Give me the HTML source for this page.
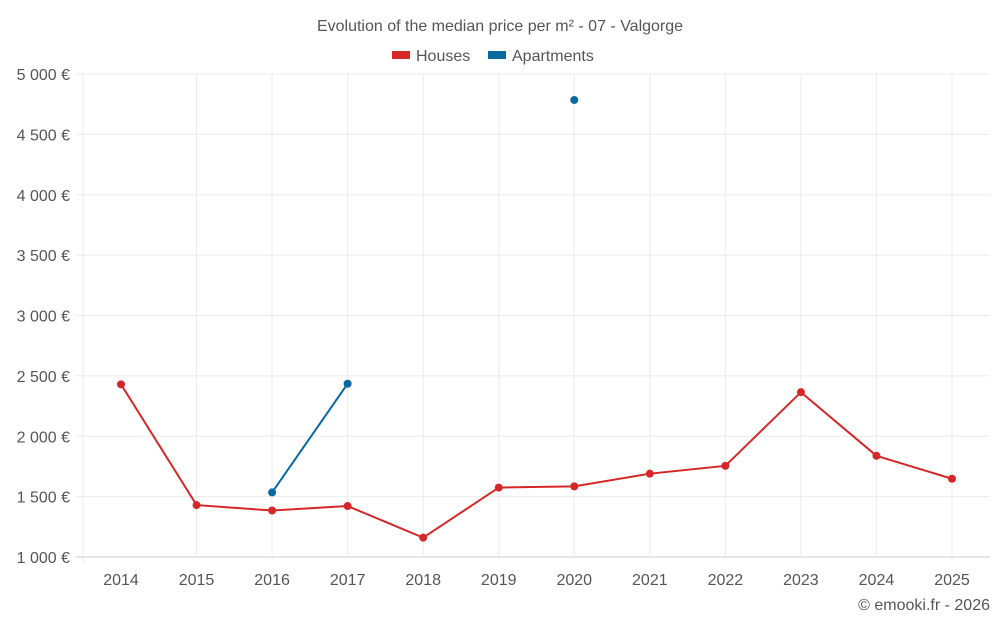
<!DOCTYPE html>
<html><head><meta charset="utf-8"><style>
body{margin:0;background:#fff;font-family:"Liberation Sans",sans-serif}
svg text{font-family:"Liberation Sans",sans-serif;fill:#555}
</style></head><body>
<svg id="c" width="1000" height="625">
<text x="500" y="31" text-anchor="middle" font-size="16">Evolution of the median price per m² - 07 - Valgorge</text>
<g>
<rect x="392" y="51" width="18" height="8" fill="#d62728"/>
<text x="416" y="61" font-size="16">Houses</text>
<rect x="488" y="51" width="18" height="8" fill="#0868a0"/>
<text x="512" y="61" font-size="16">Apartments</text>
</g>
<g id="grid"></g><g id="axes"></g><g id="series"></g>
<text x="990" y="610" text-anchor="end" font-size="16">© emooki.fr - 2026</text>
</svg>
<script>
const years=["2014","2015","2016","2017","2018","2019","2020","2021","2022","2023","2024","2025"];
const houses=[2430,1430,1385,1422,1160,1575,1585,1690,1755,2365,1838,1648];
const apartments=[null,null,1535,2435,null,null,4785,null,null,null,null,null];
const yTicks=[1000,1500,2000,2500,3000,3500,4000,4500,5000];
const NS="http://www.w3.org/2000/svg";
const L=83,R=990,T=74,B=557;
const x=i=>121+i*(952-121)/(years.length-1);
const y=v=>B-(v-1000)/4000*(B-T);
function mk(t,a,p){const e=document.createElementNS(NS,t);for(const k in a)e.setAttribute(k,a[k]);p.appendChild(e);return e;}
const g=document.getElementById('grid'),ax=document.getElementById('axes'),s=document.getElementById('series');
yTicks.forEach(v=>{
 const ln=mk('line',{x1:76,x2:R,y1:y(v),y2:y(v),stroke:v===1000?'#ccc':'#ebebeb'},g);
 
 
 const t=mk('text',{x:70,y:y(v)+6,'text-anchor':'end','font-size':16},ax);
 t.textContent=v.toLocaleString('fr-FR').replace(/\s/g,' ')+' €';
 
 
});
const v0=mk('line',{x1:L,x2:L,y1:T,y2:B+6,stroke:'#ebebeb'},g);


years.forEach((yr,i)=>{
 if(i>0){const ln=mk('line',{x1:x(i),x2:x(i),y1:T,y2:B,stroke:'#ebebeb'},g);
 
 }
 const t=mk('text',{x:x(i),y:585,'text-anchor':'middle','font-size':16},ax);
 t.textContent=yr;
 
 
});
function draw(data,color,name){
 let seg=[];const segs=[];
 data.forEach((v,i)=>{if(v==null){if(seg.length)segs.push(seg);seg=[];}else seg.push([x(i),y(v)]);});
 if(seg.length)segs.push(seg);
 segs.forEach(sg=>{if(sg.length>1){const p=mk('polyline',{points:sg.map(q=>q.join(',')).join(' '),fill:'none',stroke:color,'stroke-width':2},s);
 
 }});
 data.forEach((v,i)=>{if(v==null)return;const c=mk('circle',{cx:x(i),cy:y(v),r:4,fill:color},s);
 
 });
}
draw(houses,'#d62728','houses');
draw(apartments,'#0868a0','apartments');
</script>
</body></html>
